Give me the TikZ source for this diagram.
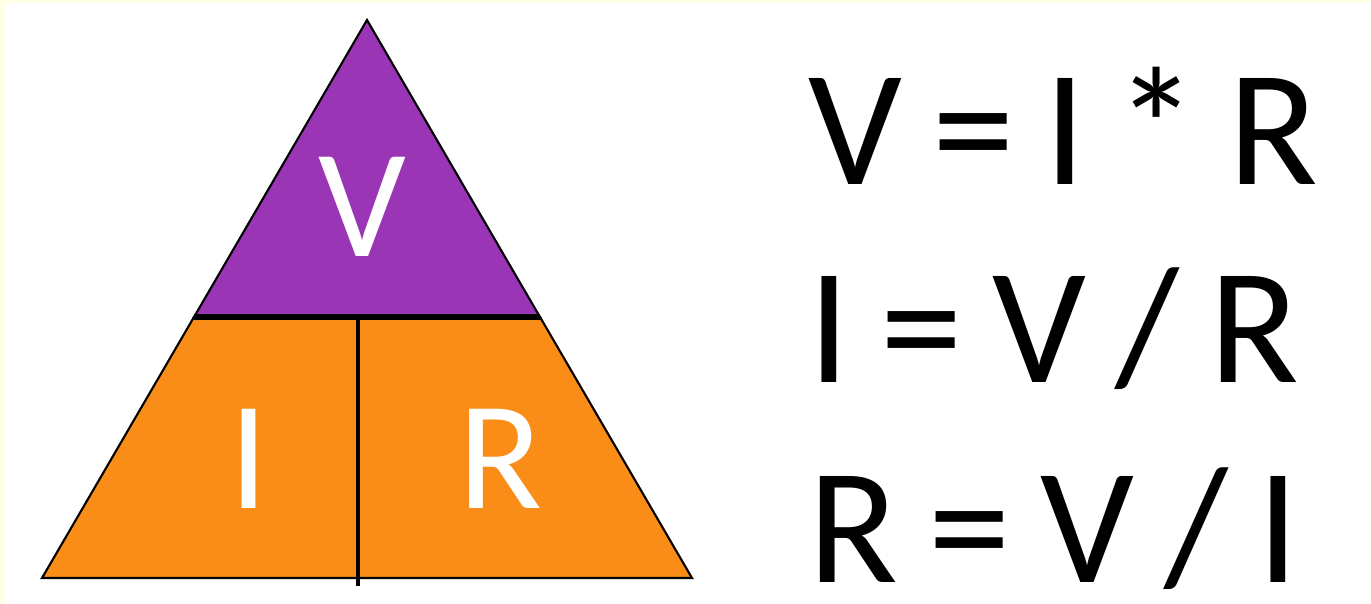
\documentclass[tikz,border=0pt]{standalone}
\usepackage{fontspec}
\setmainfont[WordSpace=0.8]{Carlito}
\usetikzlibrary{positioning}

\definecolor{vpurple}{HTML}{9A35B6}
\definecolor{iorange}{HTML}{F98D18}
\definecolor{cream}{HTML}{FFFFE6}

\tikzset{
  part/.style={draw=black, line width=0.6pt, line join=miter},
  letter/.style={text=white, inner sep=0pt, anchor=base, font=\fontsize{44}{44}\selectfont},
  rule/.style={inner sep=0pt, anchor=base west, text depth=0pt, font=\fontsize{47}{47}\selectfont}
}

\begin{document}
\begin{tikzpicture}[x=0.01cm, y=-0.01cm]
            % Page with cream edge at top and left
            \fill[cream] (0,0) rectangle (1371,604);
            \fill[white] (5,3) rectangle (1371,604);
            \useasboundingbox (0,0) rectangle (1371,604);

            % Corners of the triangle
            \coordinate (apex) at (367,20);
            \coordinate (ml) at (194,317);
            \coordinate (mr) at (540,317);
            \coordinate (bl) at (42,578);
            \coordinate (br) at (692,578);
            \coordinate (mt) at (358,317);
            \coordinate (mb) at (358,586);

            % Top part and bottom part
            \filldraw[part, fill=vpurple] (apex) -- (mr) -- (ml) -- cycle;
            \filldraw[part, fill=iorange] (ml) -- (mr) -- (br) -- (bl) -- cycle;

            % Dividers
            \draw[line width=1.8pt] (ml) -- (mr);
            \draw[line width=1.1pt] (mt) -- (mb);

            % Letters in the triangle
            \node[letter] (v) at (362,257) {V};
            \node[letter] (i) at (249,508) {I};
            \node[letter] (r) at (500,508) {R};

            % The three rules
            \node[rule] (rulev) at (808,185) {V = I * R};
            \node[rule] (rulei) at (808,383) {I = V / R};
            \node[rule] (ruler) at (808,582) {R = V / I};
\end{tikzpicture}
\end{document}
